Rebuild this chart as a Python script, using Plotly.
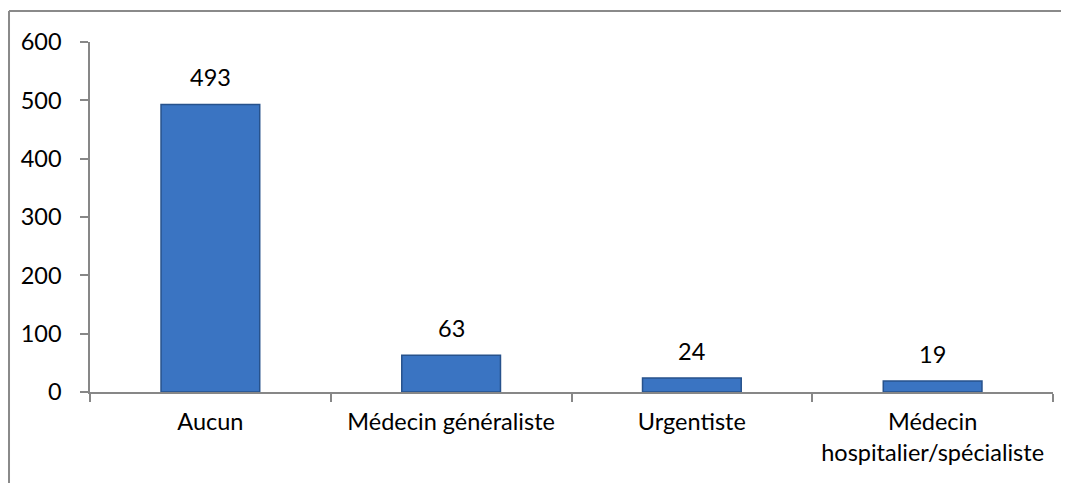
import plotly.graph_objects as go

categories = ["Aucun", "Médecin généraliste", "Urgentiste", "Médecin<br>hospitalier/spécialiste"]
values = [493, 63, 24, 19]
y_ticks = [0, 100, 200, 300, 400, 500, 600]

font_name = "Lato, Open Sans, sans-serif"
axis_grey = "#878787"

fig = go.Figure()

fig.add_trace(go.Bar(
    x=categories,
    y=values,
    width=0.41,
    marker=dict(color="#3a74c2", line=dict(color="#27528c", width=1.5)),
    hoverinfo="x+y",
))

# value labels above each bar
for cat, val in zip(categories, values):
    fig.add_annotation(x=cat, y=val, text=str(val), showarrow=False,
                       yanchor="bottom", yshift=11,
                       font=dict(size=23.5, color="black", family=font_name))

# outer chart frame (left and top edges visible)
fig.add_shape(type="line", xref="paper", yref="paper",
              x0=-0.0841, x1=1.0166, y0=1.0886, y1=1.0886,
              line=dict(color="#8a8a8a", width=2))
fig.add_shape(type="line", xref="paper", yref="paper",
              x0=-0.0841, x1=-0.0841, y0=1.0886, y1=-0.3,
              line=dict(color="#8a8a8a", width=2))

# the page body has an 8px margin, so the figure is sized to fit inside it
fig.update_layout(
    width=1061, height=475,
    margin=dict(l=82, r=16, t=34, b=91),
    plot_bgcolor="white", paper_bgcolor="white",
    showlegend=False,
    font=dict(family=font_name, size=23.5, color="black"),
)

fig.update_xaxes(
    showline=True, linecolor=axis_grey, linewidth=1.5,
    ticks="outside", ticklen=8, tickcolor=axis_grey, tickwidth=1.5,
    tickson="boundaries", showgrid=False, ticklabelstandoff=8,
    tickfont=dict(size=23.5, family=font_name, color="black"),
)
fig.update_yaxes(
    range=[0, 600], tickvals=y_ticks,
    showline=True, linecolor=axis_grey, linewidth=1.5,
    ticks="outside", ticklen=8, tickcolor=axis_grey, tickwidth=1.5,
    showgrid=False, zeroline=False, ticklabelstandoff=14,
    tickfont=dict(size=23.5, family=font_name, color="black"),
)

fig.write_html("out.html")
